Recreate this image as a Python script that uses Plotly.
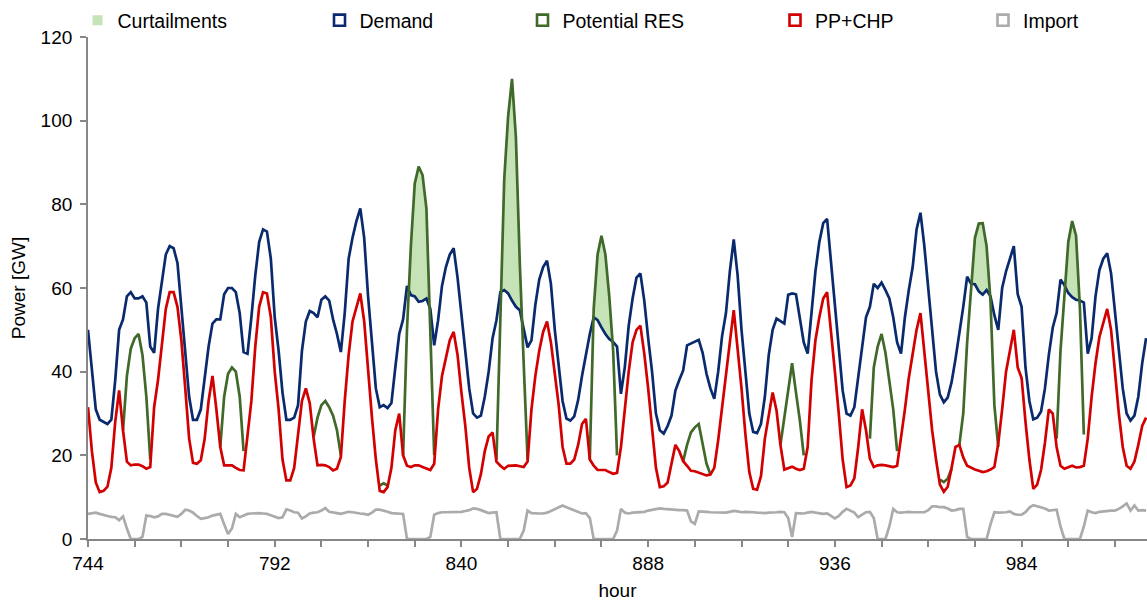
import plotly.graph_objects as go

# ---------------- data ----------------
HOUR_START = 744
HOUR_END = 1016

DEMAND = [
    50, 40, 31, 28.5, 28, 27.5, 28.5, 38, 50, 52.5, 58, 59, 57.5, 57.5, 58, 56.5, 46, 44.5, 55, 62, 68, 70, 69.5, 66,
    55, 45, 34, 28.5, 28.5, 31, 38, 46, 51.5, 52.5, 52.5, 58.5, 60, 60, 59, 54, 44.7, 44.3, 53, 63, 71, 74, 73.5, 67,
    53, 45, 35, 28.5, 28.5, 29, 32, 45, 52, 54.5, 54, 53, 57.2, 58, 57, 52.5, 49, 44.7, 54, 67, 72, 76, 79, 72,
    58, 46.5, 36, 31.5, 32, 31.3, 32.5, 41, 49, 52.5, 60.5, 58.3, 58, 56.7, 56.9, 57.5, 55, 46.3, 52.3, 60.5, 65, 68, 69.5, 62.5,
    54, 45, 36, 30, 29, 29.5, 34, 40, 48, 52.3, 59, 59.5, 58.7, 57, 55.5, 54.7, 50, 45.8, 47.5, 56, 62, 65, 66.5, 61,
    50, 41, 33, 28.8, 28.3, 29.3, 33.2, 39, 44, 49, 53, 52.3, 50.6, 49, 47.8, 47.1, 46, 34.7, 41.1, 51, 57.5, 62.5, 63.5, 57,
    48, 40, 30, 26, 25.2, 27, 29.5, 35.5, 38, 40.3, 46.3, 46.8, 47.2, 47.6, 44.5, 39.5, 36, 33.5, 40, 48.5, 54, 64, 71.6, 63,
    50, 39, 30, 25.6, 25.3, 27.5, 34, 44, 50, 52.7, 52.2, 51.5, 58.4, 58.7, 58.5, 53, 47, 44.3, 53.5, 64, 71, 75.5, 76.5, 66,
    56, 45, 35.5, 30, 29.5, 31.5, 38.5, 46, 53, 55.5, 61, 60, 61.3, 59.5, 57.5, 53, 47, 44.3, 53, 59.5, 65, 74, 78, 70,
    59.5, 49, 40, 34.5, 32.7, 33.8, 37.5, 43, 49, 55.5, 62.7, 61, 60.9, 59.2, 58.4, 59.5, 58, 53.5, 50, 60, 64, 67, 70, 58.5,
    55.5, 41, 33, 28.6, 29, 30.5, 36, 44, 50.5, 54, 62, 60.7, 58.8, 57.8, 57.2, 57, 56.5, 44.3, 48, 58, 64.3, 67, 68.3, 63.5,
    54, 45, 36, 30, 28.3, 29.5, 34, 42, 48,
]

PP_CHP = [
    31.5, 21, 13.5, 11.2, 11.5, 12.5, 17, 28, 35.5, 26, 18.5, 17.6, 17.8, 17.8, 17.4, 16.8, 17.2, 31.5, 38, 47, 55, 59, 59, 55.5,
    47.5, 36, 24, 18.2, 18, 18.8, 24, 33, 39, 31, 22, 17.6, 17.6, 17.6, 17, 16.5, 16.4, 25, 33, 46, 55.5, 59, 58.7, 53,
    40, 31, 19, 14, 14, 17, 25, 33, 36, 32.5, 24, 17.6, 17.7, 17.6, 17.2, 16.4, 16.8, 19.6, 33, 44, 52, 55.5, 58.7, 52,
    40, 29, 19, 11.5, 11.2, 12.4, 17, 26, 30, 20, 17.5, 17.2, 17.6, 17.6, 17.2, 16.8, 16.5, 18, 31, 39, 43.5, 47.5, 49.5, 44,
    35, 27, 17, 11.2, 12, 15.5, 21, 24.5, 25.5, 18.5, 17.5, 16.8, 17.5, 17.6, 17.6, 17.4, 17.2, 18.5, 31, 39, 45, 49.5, 52, 47,
    40, 32, 22, 18, 18, 19, 22.5, 27.5, 28.7, 19, 17.5, 16.5, 16.5, 16.5, 16, 15.6, 15.8, 22, 31, 40, 47, 50, 51, 44.3,
    36, 27, 17, 12.4, 12.6, 13.5, 18, 22.5, 21, 18.6, 17.5, 16.3, 16.2, 15.9, 15.5, 15.2, 15.4, 17, 23.6, 31, 38.5, 47, 54.7, 46,
    36, 25, 16, 12, 11.8, 15, 24, 29.5, 35, 30.7, 22.5, 16.6, 17, 17.3, 16.8, 16.5, 16.8, 22, 38, 47.5, 53, 57.5, 59, 50,
    40, 30, 19, 12.4, 12.8, 14.5, 22, 31, 26, 19.2, 17.2, 17.6, 17.7, 17.6, 17.4, 17.2, 17.5, 24, 31, 38.5, 44, 50, 54, 45,
    35.5, 26, 19, 13, 11.3, 12.5, 17, 22, 22.5, 19.5, 17.5, 17, 16.6, 16.3, 16, 16.2, 16.6, 17.2, 22.8, 31, 40, 45, 50, 41,
    38.5, 28, 19, 12, 13, 16.5, 23, 31, 30, 22, 17.5, 16.8, 17.2, 17.5, 17.1, 17.2, 17.5, 24, 34, 42, 48.3, 52, 55, 50,
    39, 30, 22, 17.5, 16.8, 18.5, 22.5, 27, 29,
]

IMPORT = [
    6, 6.2, 6.3, 6, 5.7, 5.5, 5.3, 5.2, 4.5, 5.4, 2.5, 0, 0, 0, 0.5, 5.6, 5.5, 5.2, 5.4, 6, 6, 5.8, 5.6, 5.3,
    6, 7, 6.8, 6.3, 5.5, 4.8, 5, 5.2, 5.6, 5.8, 6, 3.5, 1.2, 2.5, 6, 5.2, 5.6, 6, 6.1, 6.2, 6.2, 6.1, 6, 5.7,
    5.4, 5, 5.2, 7.1, 6.8, 6.4, 6.3, 4.9, 5.4, 6.1, 6.3, 6.4, 6.8, 7.4, 6.5, 6.4, 6.2, 6, 6.2, 6.5, 6.4, 6.2, 6.1, 6,
    5.8, 6.3, 7, 7, 6.8, 6.5, 6.2, 6.1, 6, 6, 0, 0, 0, 0, 0, 0, 0.5, 5.8, 6.2, 6.4, 6.4, 6.4, 6.4, 6.4,
    6.5, 6.7, 6.9, 7.3, 7.2, 6.9, 6.6, 6.2, 6.3, 6.4, 0, 0, 0, 0, 0, 0, 2, 6.8, 6.2, 6.1, 6.1, 6.1, 6.3, 6.7,
    7.2, 7.6, 8, 7.6, 7.2, 6.8, 6.5, 6.1, 6.2, 5, 0, 0, 0, 0, 0, 0, 2, 7.2, 6.3, 6.1, 6.3, 6.4, 6.4, 6.5,
    6.8, 7, 7.2, 7.3, 7.2, 7.1, 7, 7, 6.9, 6.9, 6.8, 4.2, 3.6, 6.6, 6.6, 6.5, 6.4, 6.4, 6.4, 6.3, 6.3, 6.5, 6.7, 6.6,
    6.4, 6.5, 6.5, 6.4, 6.3, 6.2, 6.2, 6.3, 6.3, 6.4, 6.5, 6.4, 5, 0.5, 6.2, 6.2, 6.1, 6.3, 6.5, 6.3, 6.1, 6, 6.1, 5.5,
    4.9, 5.5, 6.5, 7.2, 6.8, 6.3, 5.2, 5.8, 6.4, 6.5, 5, 0, 0, 0, 3, 7.2, 6.4, 6.3, 6.4, 6.5, 6.4, 6.4, 6.4, 6.4,
    6.9, 7.8, 7.8, 7.6, 7.6, 7.3, 6.8, 6.9, 7.2, 7.2, 0.5, 0, 0, 0, 0, 0, 3.5, 6.4, 6.3, 6.3, 6.4, 6.6, 6, 5.8,
    5.8, 6.4, 7.5, 8.1, 7.8, 7.5, 7.3, 6.8, 6.9, 7, 3, 0, 0, 0, 0, 0, 3, 6.8, 6.4, 6.2, 6.5, 6.6, 6.8, 6.8,
    6.8, 7.2, 7.8, 8.5, 6.8, 8, 6.8, 6.9, 6.8,
]

# Potential RES is only drawn during the daytime windows: (first hour, values)
RES_SEGMENTS = [
    (753, [26, 39, 45.5, 48, 49, 44, 34, 19]),
    (778, [22, 34, 39.5, 41, 40, 34, 21]),
    (802, [24.4, 29, 32, 33, 31.5, 29.5, 26, 20]),
    (819, [12.8, 13.3, 12.8]),
    (825, [20, 50, 70, 85, 89, 87, 79, 50, 20]),
    (849, [19, 55, 86, 101, 110, 96, 66, 42, 19]),
    (873, [19, 55, 68, 72.5, 68, 58, 45, 20]),
    (897, [18.6, 22.5, 25.5, 26.7, 27.5, 23, 18, 15.5]),
    (922, [22.5, 29, 36, 42, 35, 28.3, 20]),
    (945, [24, 41, 46, 49, 44.5, 37.5, 31, 21]),
    (963, [14.2, 13.6, 14.4, 16.8]),
    (968, [22.5, 30, 47, 59, 72, 75.4, 75.5, 70, 57, 32, 22]),
    (993, [24, 45, 58, 71, 76, 72.5, 55, 25]),
]

X_TICK_STEP = 12
X_LABEL_STEP = 48
Y_TICKS = [0, 20, 40, 60, 80, 100, 120]

NAMES = ["Curtailments", "Demand", "Potential RES", "PP+CHP", "Import"]

# ---------------- build ----------------
HOURS = list(range(HOUR_START, HOUR_END + 1))
assert len(DEMAND) == len(HOURS) and len(PP_CHP) == len(HOURS) and len(IMPORT) == len(HOURS)

RES = [None] * len(HOURS)
for start, vals in RES_SEGMENTS:
    for k, v in enumerate(vals):
        RES[start - HOUR_START + k] = v


def curtail_polygons(hours, res, dem):
    xs, ys = [], []
    top, bot = [], []

    def close():
        nonlocal top, bot
        if top:
            pts = top + bot[::-1]
            xs.extend([p[0] for p in pts] + [pts[0][0], None])
            ys.extend([p[1] for p in pts] + [pts[0][1], None])
        top, bot = [], []

    prev = None
    for i, h in enumerate(hours):
        r = res[i]
        if r is None:
            close()
            prev = None
            continue
        d = r - dem[i]
        if prev is not None and ((prev > 0) != (d > 0)):
            t = prev / (prev - d)
            xc = hours[i - 1] + t * (h - hours[i - 1])
            yc = dem[i - 1] + t * (dem[i] - dem[i - 1])
            top.append((xc, yc))
            if prev > 0:
                close()
        if d > 0:
            top.append((h, r))
            bot.append((h, dem[i]))
        prev = d
    close()
    return xs, ys


FONT = "Liberation Sans, Arial, sans-serif"
C_CURT = "#c6e3b8"
C_DEM = "#0a2a6e"
C_RES = "#41692a"
C_PP = "#d20000"
C_IMP = "#ababab"
AXIS_C = "#878787"

fig = go.Figure()

cx, cy = curtail_polygons(HOURS, RES, DEMAND)
fig.add_trace(go.Scatter(x=cx, y=cy, fill="toself", fillcolor=C_CURT, mode="lines",
                         line=dict(width=0, color="rgba(0,0,0,0)"), hoverinfo="skip",
                         showlegend=False))
fig.add_trace(go.Scatter(x=HOURS, y=DEMAND, mode="lines", line=dict(color=C_DEM, width=2.7),
                         showlegend=False, name=NAMES[1]))
fig.add_trace(go.Scatter(x=HOURS, y=RES, mode="lines", line=dict(color=C_RES, width=2.7),
                         connectgaps=False, showlegend=False, name=NAMES[2]))
fig.add_trace(go.Scatter(x=HOURS, y=PP_CHP, mode="lines", line=dict(color=C_PP, width=2.7),
                         showlegend=False, name=NAMES[3]))
fig.add_trace(go.Scatter(x=HOURS, y=IMPORT, mode="lines", line=dict(color=C_IMP, width=2.7),
                         showlegend=False, name=NAMES[4]))

# legend entries (Excel-style square keys), one legend box per entry
LEG_X = [103.5, 345.5, 548.5, 801, 1009]  # symbol centres in px
leg_styles = [
    dict(symbol="square", color=C_CURT, size=10, line=dict(width=0)),
    dict(symbol="square-open", color=C_DEM, size=11, line=dict(width=2.6)),
    dict(symbol="square-open", color=C_RES, size=11, line=dict(width=2.6)),
    dict(symbol="square-open", color=C_PP, size=11, line=dict(width=2.6)),
    dict(symbol="square-open", color=C_IMP, size=11, line=dict(width=2.6)),
]
W, H = 1147, 601
legend_layouts = {}
for i, (name, st) in enumerate(zip(NAMES, leg_styles)):
    key = "legend" if i == 0 else f"legend{i + 1}"
    fig.add_trace(go.Scatter(x=[None], y=[None], mode="markers", marker=st, name=name,
                             legend=key, showlegend=True))
    legend_layouts[key] = dict(
        x=(LEG_X[i] - 26) / W, xref="container", xanchor="left",
        y=1 - 20.5 / H, yref="container", yanchor="middle",
        orientation="h", bgcolor="rgba(0,0,0,0)", borderwidth=0,
        font=dict(family=FONT, size=19.5, color="#000000"),
        itemwidth=30, itemclick=False, itemdoubleclick=False,
    )

tickvals = list(range(HOUR_START, HOUR_END + 1, X_TICK_STEP))
ticktext = [str(v) if (v - HOUR_START) % X_LABEL_STEP == 0 else "" for v in tickvals]

L, R, T, B = 88, 0, 37, 62
px_per_hour = 3.89
x_max = HOUR_START + (W - L - R) / px_per_hour

fig.update_layout(
    width=W, height=H,
    margin=dict(l=L, r=R, t=T, b=B, pad=0, autoexpand=False),
    paper_bgcolor="white", plot_bgcolor="white",
    font=dict(family=FONT, size=19, color="#000000"),
    xaxis=dict(
        range=[HOUR_START, x_max], tickmode="array", tickvals=tickvals, ticktext=ticktext,
        showline=True, linecolor=AXIS_C, linewidth=1.8, ticks="outside", ticklen=6,
        tickcolor=AXIS_C, tickwidth=1.5, showgrid=False, zeroline=False,
        tickfont=dict(family=FONT, size=19, color="#000000"),
        title=dict(text="hour", font=dict(family=FONT, size=19, color="#000000"), standoff=12),
    ),
    yaxis=dict(
        range=[0, 120], tickmode="array", tickvals=Y_TICKS,
        showline=True, linecolor=AXIS_C, linewidth=1.8, ticks="outside", ticklen=6,
        tickcolor=AXIS_C, tickwidth=1.5, showgrid=False, zeroline=False,
        ticklabelstandoff=4,
        tickfont=dict(family=FONT, size=19, color="#000000"),
        title=dict(text="Power [GW]", font=dict(family=FONT, size=19, color="#000000"), standoff=10),
    ),
    **legend_layouts,
)

fig.write_html("out.html")
